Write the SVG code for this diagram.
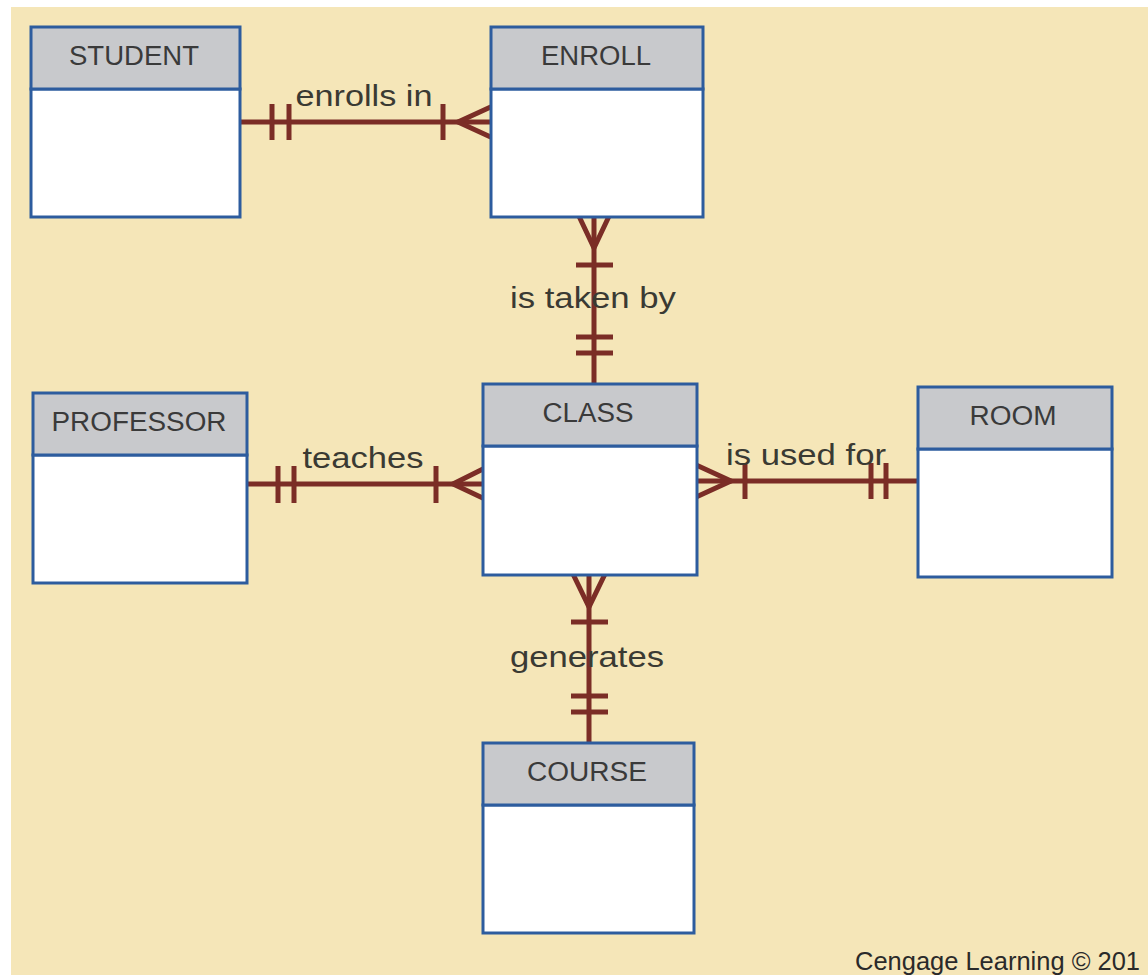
<svg xmlns="http://www.w3.org/2000/svg" width="1148" height="975" viewBox="0 0 1148 975">
<style>
.hdr{fill:#C8C9CC;stroke:#2D5C9E;stroke-width:3}
.body{fill:#FFFFFF;stroke:#2D5C9E;stroke-width:3}
.title{font-family:"Liberation Sans",Arial,sans-serif;font-size:27px;fill:#3A3A3A;text-anchor:middle}
.lbl{font-family:"Liberation Sans",Arial,sans-serif;font-size:30px;fill:#3A3A33;text-anchor:middle}
.ln{stroke:#7B2D26;stroke-width:5;fill:none;stroke-linecap:butt}
</style>
<rect x="0" y="0" width="1148" height="975" fill="#FFFFFF"/>
<rect x="11" y="7" width="1137" height="968" fill="#F5E6B8"/>
<g id="connectors">
  <g id="c-enrolls">
    <line class="ln" x1="237" y1="122" x2="494" y2="122"/>
    <line class="ln" x1="272" y1="104" x2="272" y2="140"/>
    <line class="ln" x1="289" y1="104" x2="289" y2="140"/>
    <line class="ln" x1="443" y1="104" x2="443" y2="140"/>
    <polyline class="ln" points="495,105 458,122 495,139"/>
    <text class="lbl" x="364" y="106" textLength="137" lengthAdjust="spacingAndGlyphs">enrolls in</text>
  </g>
  <g id="c-taken">
    <line class="ln" x1="594" y1="211" x2="594" y2="387"/>
    <polyline class="ln" points="577,212 594,248 611,212"/>
    <line class="ln" x1="576" y1="265" x2="613" y2="265"/>
    <line class="ln" x1="576" y1="337" x2="613" y2="337"/>
    <line class="ln" x1="576" y1="353" x2="613" y2="353"/>
    <text class="lbl" x="593" y="308" textLength="166" lengthAdjust="spacingAndGlyphs">is taken by</text>
  </g>
  <g id="c-teaches">
    <line class="ln" x1="243" y1="484" x2="487" y2="484"/>
    <line class="ln" x1="278" y1="466" x2="278" y2="503"/>
    <line class="ln" x1="294" y1="466" x2="294" y2="503"/>
    <line class="ln" x1="436" y1="466" x2="436" y2="503"/>
    <polyline class="ln" points="487,467 453,484 487,500"/>
    <text class="lbl" x="363" y="468" textLength="121" lengthAdjust="spacingAndGlyphs">teaches</text>
  </g>
  <g id="c-used">
    <line class="ln" x1="693" y1="481" x2="922" y2="481"/>
    <polyline class="ln" points="694,464 731,481 694,498"/>
    <line class="ln" x1="745" y1="463" x2="745" y2="499"/>
    <line class="ln" x1="871" y1="463" x2="871" y2="499"/>
    <line class="ln" x1="886" y1="463" x2="886" y2="499"/>
    <text class="lbl" x="806" y="465" textLength="160" lengthAdjust="spacingAndGlyphs">is used for</text>
  </g>
  <g id="c-generates">
    <line class="ln" x1="589" y1="571" x2="589" y2="746"/>
    <polyline class="ln" points="572,572 589,607 606,572"/>
    <line class="ln" x1="571" y1="622" x2="608" y2="622"/>
    <line class="ln" x1="571" y1="696" x2="608" y2="696"/>
    <line class="ln" x1="571" y1="712" x2="608" y2="712"/>
    <text class="lbl" x="587" y="667" textLength="154" lengthAdjust="spacingAndGlyphs">generates</text>
  </g>
</g>
<g id="student">
  <rect class="body" x="31" y="89" width="209" height="128"/>
  <rect class="hdr" x="31" y="27" width="209" height="62"/>
  <text class="title" x="134" y="65" textLength="130" lengthAdjust="spacingAndGlyphs">STUDENT</text>
</g>
<g id="enroll">
  <rect class="body" x="491" y="89" width="212" height="128"/>
  <rect class="hdr" x="491" y="27" width="212" height="62"/>
  <text class="title" x="596" y="65" textLength="110" lengthAdjust="spacingAndGlyphs">ENROLL</text>
</g>
<g id="professor">
  <rect class="body" x="33" y="455" width="214" height="128"/>
  <rect class="hdr" x="33" y="393" width="214" height="62"/>
  <text class="title" x="139" y="431" textLength="175" lengthAdjust="spacingAndGlyphs">PROFESSOR</text>
</g>
<g id="class">
  <rect class="body" x="483" y="446" width="214" height="129"/>
  <rect class="hdr" x="483" y="384" width="214" height="62"/>
  <text class="title" x="588" y="422" textLength="91" lengthAdjust="spacingAndGlyphs">CLASS</text>
</g>
<g id="room">
  <rect class="body" x="918" y="449" width="194" height="128"/>
  <rect class="hdr" x="918" y="387" width="194" height="62"/>
  <text class="title" x="1013" y="425" textLength="87" lengthAdjust="spacingAndGlyphs">ROOM</text>
</g>
<g id="course">
  <rect class="body" x="483" y="805" width="211" height="128"/>
  <rect class="hdr" x="483" y="743" width="211" height="62"/>
  <text class="title" x="587" y="781" textLength="120" lengthAdjust="spacingAndGlyphs">COURSE</text>
</g>
<text x="855" y="970" font-family="'Liberation Sans',Arial,sans-serif" font-size="25" fill="#2A2A2A" textLength="285" lengthAdjust="spacingAndGlyphs">Cengage Learning © 201</text>
</svg>
